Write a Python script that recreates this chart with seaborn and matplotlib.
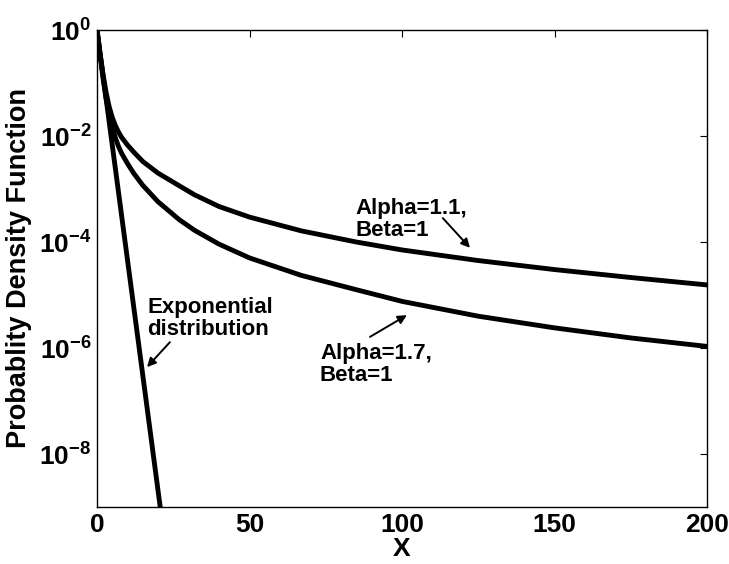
import numpy as np
import pandas as pd
import matplotlib
matplotlib.use("Agg")
import matplotlib.pyplot as plt
import seaborn as sns

# Data (x, log10 of pdf)
x_a11 = [0, 0.5, 1, 2, 3, 4, 5, 6, 7, 8, 10, 12, 15, 20, 27, 32, 40, 50, 67, 85, 100,
         125, 150, 175, 200]
log_a11 = [0, -0.22, -0.45, -0.85, -1.18, -1.45, -1.65, -1.8, -1.92, -2.02, -2.17,
           -2.3, -2.48, -2.7, -2.94, -3.11, -3.33, -3.53, -3.79, -4.0, -4.15,
           -4.35, -4.52, -4.67, -4.81]
x_a17 = [0, 0.5, 1, 2, 3, 4, 5, 6, 7, 8, 10, 12, 15, 20, 27, 32, 40, 50, 67, 85, 100,
         125, 150, 175, 200]
log_a17 = [0, -0.23, -0.47, -0.92, -1.3, -1.6, -1.84, -2.03, -2.19, -2.32, -2.52,
           -2.7, -2.93, -3.24, -3.58, -3.78, -4.04, -4.3, -4.63, -4.9, -5.12,
           -5.4, -5.62, -5.81, -5.97]
x_exp = [0, 5, 10, 15, 21]
log_exp = [0, -2.17, -4.34, -6.51, -9.12]

yticks = [1e-8, 1e-6, 1e-4, 1e-2, 1e0]
ytick_labels = [r"$10^{-8}$", r"$10^{-6}$", r"$10^{-4}$", r"$10^{-2}$", r"$10^{0}$"]
xticks = [0, 50, 100, 150, 200]

df = pd.concat([
    pd.DataFrame({"x": x_a11, "y": np.power(10.0, log_a11), "s": "Alpha=1.1"}),
    pd.DataFrame({"x": x_a17, "y": np.power(10.0, log_a17), "s": "Alpha=1.7"}),
    pd.DataFrame({"x": x_exp, "y": np.power(10.0, log_exp), "s": "Exp"}),
])

sns.set_theme(style="white")
plt.rcParams["font.family"] = ["Liberation Sans", "DejaVu Sans"]
plt.rcParams["font.weight"] = "bold"
plt.rcParams["text.color"] = "black"
plt.rcParams["axes.labelcolor"] = "black"
plt.rcParams["xtick.color"] = "black"
plt.rcParams["ytick.color"] = "black"
plt.rcParams["mathtext.fontset"] = "custom"
plt.rcParams["mathtext.rm"] = "Liberation Sans:bold"
plt.rcParams["mathtext.it"] = "Liberation Sans:bold"
plt.rcParams["mathtext.bf"] = "Liberation Sans:bold"
plt.rcParams["mathtext.default"] = "rm"

fig = plt.figure(figsize=(7.29, 5.64), dpi=100)
ax = fig.add_axes([97/729, 1 - 507/564, (707-97)/729, (507-30)/564])

for name in ["Alpha=1.1", "Alpha=1.7", "Exp"]:
    sub = df[df["s"] == name]
    sns.lineplot(data=sub, x="x", y="y", ax=ax, color="black", lw=3.5,
                 estimator=None, sort=False)

ax.set_yscale("log")
ax.set_xlim(0, 200)
ax.set_ylim(1e-9, 1e0)
ax.set_xticks(xticks)
ax.set_xticklabels([str(v) for v in xticks])
ax.set_yticks(yticks)
ax.set_yticklabels(ytick_labels)
ax.yaxis.set_minor_locator(matplotlib.ticker.NullLocator())
ax.tick_params(direction="in", length=5, width=0.8, top=True, right=True,
               labelsize=19, pad=4, color="black", labelcolor="black")
for lab in ax.get_xticklabels() + ax.get_yticklabels():
    lab.set_fontweight("bold")
for sp in ax.spines.values():
    sp.set_color("black")
    sp.set_linewidth(1.0)

ax.set_xlabel("X", fontsize=19, fontweight="bold", labelpad=0, color="black")
ax.set_ylabel("Probablity Density Function", fontsize=19.5, fontweight="bold",
              labelpad=5, color="black")

arrow = dict(arrowstyle="-|>", color="black", lw=1.4, mutation_scale=13, shrinkA=0, shrinkB=0)
ax.text(84.6, 10**-3.17, "Alpha=1.1,\nBeta=1", fontsize=16, fontweight="bold",
        ha="left", va="top", linespacing=1.05, color="black")
ax.annotate("", xy=(122.3, 10**-4.11), xytext=(113.4, 10**-3.55), arrowprops=arrow)

ax.text(73.1, 10**-5.9, "Alpha=1.7,\nBeta=1", fontsize=16, fontweight="bold",
        ha="left", va="top", linespacing=1.05, color="black")
ax.annotate("", xy=(101.6, 10**-5.38), xytext=(89.5, 10**-5.79), arrowprops=arrow)

ax.text(16.4, 10**-5.04, "Exponential\ndistribution", fontsize=16, fontweight="bold",
        ha="left", va="top", linespacing=1.05, color="black")
ax.annotate("", xy=(16.4, 10**-6.36), xytext=(23.9, 10**-5.89), arrowprops=arrow)

fig.savefig("out.png", dpi=100)
